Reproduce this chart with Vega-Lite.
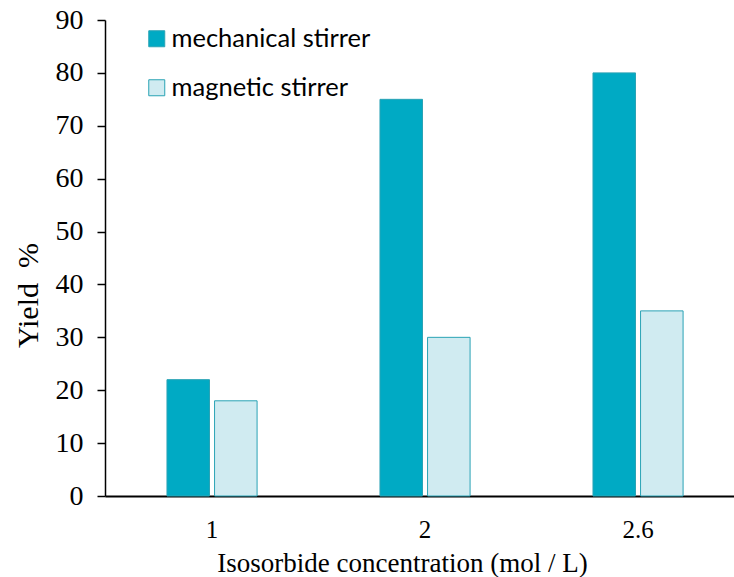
{
  "$schema": "https://vega.github.io/schema/vega-lite/v6.json",
  "width": 629,
  "height": 476,
  "autosize": "none",
  "padding": {"left": 105, "top": 20, "right": 0, "bottom": 81},
  "background": "white",
  "data": {
    "values": [
      {"conc": "1", "stirrer": "mechanical stirrer", "yield": 22},
      {"conc": "1", "stirrer": "magnetic stirrer", "yield": 18},
      {"conc": "2", "stirrer": "mechanical stirrer", "yield": 75},
      {"conc": "2", "stirrer": "magnetic stirrer", "yield": 30},
      {"conc": "2.6", "stirrer": "mechanical stirrer", "yield": 80},
      {"conc": "2.6", "stirrer": "magnetic stirrer", "yield": 35}
    ]
  },
  "mark": {"type": "bar", "stroke": "#2aa3b5", "strokeWidth": 1},
  "encoding": {
    "x": {
      "field": "conc",
      "type": "nominal",
      "sort": ["1", "2", "2.6"],
      "scale": {"paddingInner": 0.577, "paddingOuter": 0.265, "align": 0.549},
      "axis": {
        "title": "Isosorbide concentration (mol / L)",
        "titleFont": "Liberation Serif",
        "titleFontSize": 27,
        "titleFontWeight": "normal",
        "titleColor": "black",
        "titlePadding": 8,
        "titleX": 297,
        "labelFont": "Liberation Serif",
        "labelFontSize": 25,
        "labelColor": "black",
        "labelAngle": 0,
        "labelPadding": 21,
        "ticks": false,
        "domainColor": "black",
        "domainWidth": 2
      }
    },
    "xOffset": {
      "field": "stirrer",
      "type": "nominal",
      "sort": ["mechanical stirrer", "magnetic stirrer"],
      "scale": {"paddingInner": 0.106}
    },
    "y": {
      "field": "yield",
      "type": "quantitative",
      "scale": {"domain": [0, 90], "nice": false},
      "axis": {
        "title": "Yield\u00a0\u00a0%",
        "titleFont": "Liberation Serif",
        "titleFontSize": 30,
        "titleFontWeight": "normal",
        "titleColor": "black",
        "titlePadding": 12,
        "titleY": 275,
        "values": [0, 10, 20, 30, 40, 50, 60, 70, 80, 90],
        "labelFont": "Liberation Serif",
        "labelFontSize": 28,
        "labelColor": "black",
        "labelPadding": 14,
        "tickSize": 8,
        "tickColor": "black",
        "tickWidth": 1.5,
        "domainColor": "black",
        "domainWidth": 1.5,
        "grid": false
      }
    },
    "color": {
      "field": "stirrer",
      "type": "nominal",
      "sort": ["mechanical stirrer", "magnetic stirrer"],
      "scale": {"domain": ["mechanical stirrer", "magnetic stirrer"], "range": ["#00aac4", "#d0ebf1"]},
      "legend": {
        "title": null,
        "orient": "none",
        "legendX": 39,
        "legendY": 6,
        "symbolType": "square",
        "symbolSize": 256,
        "symbolStrokeColor": "#2aa3b5",
        "symbolStrokeWidth": 1,
        "labelFont": "Lato",
        "labelFontSize": 25.5,
        "labelColor": "black",
        "labelOffset": 2,
        "labelLimit": 400,
        "rowPadding": 22
      }
    }
  },
  "config": {"view": {"stroke": null}}
}
